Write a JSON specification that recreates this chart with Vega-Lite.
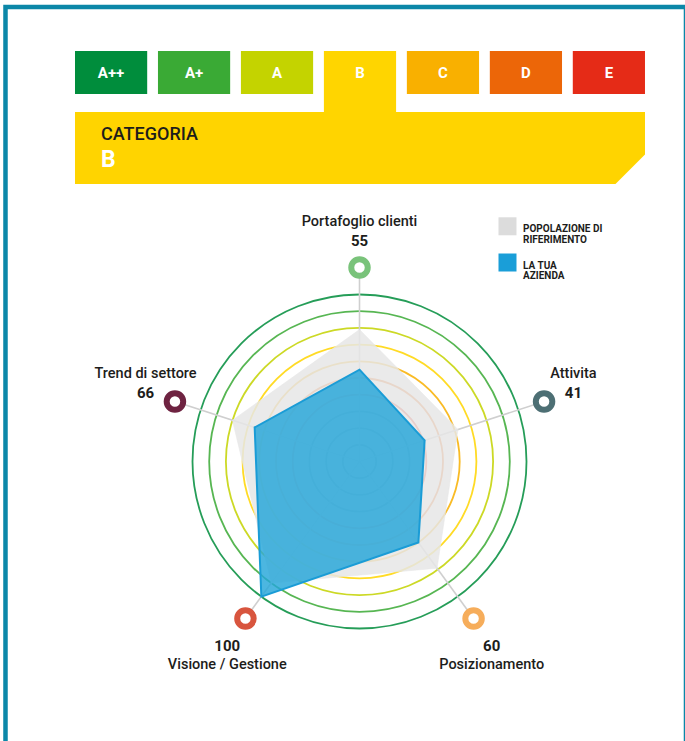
{
  "$schema": "https://vega.github.io/schema/vega-lite/v6.json",
  "width": 685,
  "height": 741,
  "autosize": {"type": "none"},
  "padding": 0,
  "background": "white",
  "config": {
    "view": {"stroke": null},
    "font": "Roboto"
  },
  "datasets": {
    "assi": [
      {"asse": "Portafoglio clienti", "ordine": 0, "azienda": 55, "popolazione": 79},
      {"asse": "Attivita", "ordine": 1, "azienda": 41, "popolazione": 62},
      {"asse": "Posizionamento", "ordine": 2, "azienda": 60, "popolazione": 79},
      {"asse": "Visione / Gestione", "ordine": 3, "azienda": 100, "popolazione": 90},
      {"asse": "Trend di settore", "ordine": 4, "azienda": 66, "popolazione": 80}
    ],
    "classi": [
      {"classe": "A++", "ordine": 0}, {"classe": "A+", "ordine": 1}, {"classe": "A", "ordine": 2}, {"classe": "B", "ordine": 3},
      {"classe": "C", "ordine": 4}, {"classe": "D", "ordine": 5}, {"classe": "E", "ordine": 6}
    ],
    "valutazione": [{"categoria": "B"}],
    "anelli": [
      {"soglia": 100, "classe": "A++"},
      {"soglia": 90, "classe": "A+"},
      {"soglia": 80, "classe": "A"},
      {"soglia": 70, "classe": "B"},
      {"soglia": 60, "classe": "C"},
      {"soglia": 50, "classe": "D"},
      {"soglia": 40, "classe": "E"},
      {"soglia": 30, "classe": "-"},
      {"soglia": 20, "classe": "-"},
      {"soglia": 10, "classe": "-"}
    ]
  },
  "layer": [
    {
      "data": {"values": [{}]},
      "mark": {"type": "rect", "filled": false, "stroke": "#0b87a8", "strokeWidth": 4.5},
      "encoding": {
        "x": {"datum": -211.98, "type": "quantitative", "axis": null, "scale": {"domain": [-215.27, 194.91], "nice": false, "zero": false}},
        "x2": {"datum": 195.5},
        "y": {"datum": 272.16, "type": "quantitative", "axis": null, "scale": {"domain": [-167.37, 276.35], "nice": false, "zero": false}},
        "y2": {"datum": -185}
      }
    },
    {
      "data": {"values": [{}]},
      "mark": {"type": "rect", "fill": "#ffd400", "strokeWidth": 0},
      "encoding": {
        "x": {"datum": -170.36, "type": "quantitative", "axis": null},
        "x2": {"datum": 170.96},
        "y": {"datum": 209.28, "type": "quantitative", "axis": null},
        "y2": {"datum": 166.17}
      }
    },
    {
      "data": {"values": [{}]},
      "mark": {"type": "point", "shape": "M1,-1L1,1L-1,1Z", "size": 900, "filled": true, "fill": "white", "strokeWidth": 0, "opacity": 1},
      "encoding": {
        "x": {"datum": 161.98, "type": "quantitative", "axis": null},
        "y": {"datum": 174.85, "type": "quantitative", "axis": null}
      }
    },
    {
      "data": {"name": "classi"},
      "transform": [
        {"calculate": "-170.36 + datum.ordine*49.68", "as": "x0"},
        {"calculate": "datum.x0 + 43.23", "as": "x1"},
        {"calculate": "245.81", "as": "yt"},
        {"calculate": "datum.classe === 'B' ? 205 : 220.06", "as": "yb"}
      ],
      "mark": {"type": "rect", "strokeWidth": 0},
      "encoding": {
        "x": {"field": "x0", "type": "quantitative", "axis": null},
        "x2": {"field": "x1"},
        "y": {"field": "yt", "type": "quantitative", "axis": null},
        "y2": {"field": "yb"},
        "color": {"field": "classe", "type": "nominal", "legend": null, "scale": {"domain": ["A++", "A+", "A", "B", "C", "D", "E", "-"], "range": ["#008d3c", "#3aaa35", "#c4d300", "#ffd500", "#f9b000", "#ec6608", "#e52b17", "#55585c"]}}
      }
    },
    {
      "data": {"name": "classi"},
      "transform": [
        {"calculate": "-170.36 + datum.ordine*49.68 + 21.6", "as": "xc"}
      ],
      "mark": {"type": "text", "align": "center", "baseline": "middle", "fontSize": 15, "fontWeight": "bold", "color": "white"},
      "encoding": {
        "x": {"field": "xc", "type": "quantitative", "axis": null},
        "y": {"datum": 232.93, "type": "quantitative", "axis": null},
        "text": {"field": "classe", "type": "nominal"}
      }
    },
    {
      "data": {"values": [{}]},
      "mark": {"type": "text", "text": "CATEGORIA", "align": "left", "baseline": "middle", "fontSize": 18, "fontWeight": 500, "color": "#1d1d1b"},
      "encoding": {
        "x": {"datum": -154.79, "type": "quantitative", "axis": null},
        "y": {"datum": 195.51, "type": "quantitative", "axis": null}
      }
    },
    {
      "data": {"name": "valutazione"},
      "mark": {"type": "text", "align": "left", "baseline": "middle", "fontSize": 23, "fontWeight": "bold", "color": "white"},
      "encoding": {
        "x": {"datum": -154.79, "type": "quantitative", "axis": null},
        "y": {"datum": 180.54, "type": "quantitative", "axis": null},
        "text": {"field": "categoria", "type": "nominal"}
      }
    },
    {
      "data": {"name": "anelli"},
      "mark": {"type": "point", "shape": "circle", "filled": false, "strokeWidth": 1.8, "opacity": 0.85},
      "encoding": {
        "x": {"datum": 0, "type": "quantitative", "axis": null},
        "y": {"datum": 0, "type": "quantitative", "axis": null},
        "size": {"field": "soglia", "type": "quantitative", "legend": null, "scale": {"type": "pow", "exponent": 2, "domain": [0, 100], "range": [0, 111556]}},
        "color": {"field": "classe", "type": "nominal", "legend": null}
      }
    },
    {
      "data": {"name": "assi"},
      "transform": [
        {"calculate": "2*PI*datum.ordine/5", "as": "ang"},
        {"calculate": "0", "as": "cx"},
        {"calculate": "116.2*sin(datum.ang)", "as": "mx"},
        {"calculate": "116.2*cos(datum.ang)", "as": "my"}
      ],
      "mark": {"type": "rule", "stroke": "#cfcfcf", "strokeWidth": 1.6},
      "encoding": {
        "x": {"field": "cx", "type": "quantitative", "axis": null},
        "y": {"field": "cx", "type": "quantitative", "axis": null},
        "x2": {"field": "mx"},
        "y2": {"field": "my"}
      }
    },
    {
      "data": {"name": "assi"},
      "transform": [
        {"calculate": "2*PI*datum.ordine/5", "as": "ang"},
        {"calculate": "datum.popolazione*sin(datum.ang)", "as": "px"},
        {"calculate": "datum.popolazione*cos(datum.ang)", "as": "py"}
      ],
      "mark": {"type": "line", "interpolate": "linear-closed", "fill": "#e6e6e6", "fillOpacity": 0.85, "stroke": "#e6e6e6", "strokeWidth": 0.5},
      "encoding": {
        "x": {"field": "px", "type": "quantitative", "axis": null},
        "y": {"field": "py", "type": "quantitative", "axis": null},
        "order": {"field": "ordine", "type": "quantitative"}
      }
    },
    {
      "data": {"name": "assi"},
      "transform": [
        {"calculate": "2*PI*datum.ordine/5", "as": "ang"},
        {"calculate": "datum.azienda*sin(datum.ang)", "as": "px"},
        {"calculate": "datum.azienda*cos(datum.ang)", "as": "py"}
      ],
      "mark": {"type": "line", "interpolate": "linear-closed", "fill": "#24a6d9", "fillOpacity": 0.82, "stroke": "#1a9cd6", "strokeWidth": 2},
      "encoding": {
        "x": {"field": "px", "type": "quantitative", "axis": null},
        "y": {"field": "py", "type": "quantitative", "axis": null},
        "order": {"field": "ordine", "type": "quantitative"}
      }
    },
    {
      "data": {"name": "assi"},
      "transform": [
        {"calculate": "2*PI*datum.ordine/5", "as": "ang"},
        {"calculate": "116.2*sin(datum.ang)", "as": "mx"},
        {"calculate": "116.2*cos(datum.ang)", "as": "my"}
      ],
      "mark": {"type": "point", "shape": "circle", "size": 272, "strokeWidth": 6, "filled": true, "fill": "white", "opacity": 1},
      "encoding": {
        "x": {"field": "mx", "type": "quantitative", "axis": null},
        "y": {"field": "my", "type": "quantitative", "axis": null},
        "stroke": {"field": "asse", "type": "nominal", "legend": null, "scale": {"domain": ["Portafoglio clienti", "Attivita", "Posizionamento", "Visione / Gestione", "Trend di settore"], "range": ["#79c37a", "#4d6f74", "#f6ad5b", "#d8553e", "#6e2341"]}}
      }
    },
    {
      "data": {"name": "assi"},
      "transform": [
        {"calculate": "2*PI*datum.ordine/5", "as": "ang"},
        {"calculate": "134.7*sin(datum.ang)", "as": "lx"},
        {"calculate": "137.7*cos(datum.ang) + (cos(datum.ang) > 0 ? 4.4*abs(sin(datum.ang)) : -4.5)", "as": "ly"},
        {"calculate": "datum.ly + (cos(datum.ang) > 0 ? 5.7 : -5.7)", "as": "ny"}
      ],
      "mark": {"type": "text", "align": "center", "baseline": "middle", "fontSize": 14.5, "fontWeight": 500, "color": "#1d1d1b"},
      "encoding": {
        "x": {"field": "lx", "type": "quantitative", "axis": null},
        "y": {"field": "ny", "type": "quantitative", "axis": null},
        "text": {"field": "asse", "type": "nominal"}
      }
    },
    {
      "data": {"name": "assi"},
      "transform": [
        {"calculate": "2*PI*datum.ordine/5", "as": "ang"},
        {"calculate": "134.7*sin(datum.ang)", "as": "lx"},
        {"calculate": "137.7*cos(datum.ang) + (cos(datum.ang) > 0 ? 4.4*abs(sin(datum.ang)) : -4.5)", "as": "ly"},
        {"calculate": "datum.ly - (cos(datum.ang) > 0 ? 5.7 : -5.7)", "as": "vy"}
      ],
      "mark": {"type": "text", "align": "center", "baseline": "middle", "fontSize": 15, "fontWeight": "bold", "color": "#1d1d1b"},
      "encoding": {
        "x": {"field": "lx", "type": "quantitative", "axis": null},
        "y": {"field": "vy", "type": "quantitative", "axis": null},
        "text": {"field": "azienda", "type": "quantitative"}
      }
    },
    {
      "data": {"values": [{}]},
      "mark": {"type": "point", "shape": "square", "size": 324, "filled": true, "fill": "#dcdcdc", "strokeWidth": 0, "opacity": 1},
      "encoding": {
        "x": {"datum": 88.62, "type": "quantitative", "axis": null},
        "y": {"datum": 140.84, "type": "quantitative", "axis": null}
      }
    },
    {
      "data": {"values": [{}]},
      "mark": {"type": "point", "shape": "square", "size": 324, "filled": true, "fill": "#1a9ed8", "strokeWidth": 0, "opacity": 1},
      "encoding": {
        "x": {"datum": 88.62, "type": "quantitative", "axis": null},
        "y": {"datum": 119.16, "type": "quantitative", "axis": null}
      }
    },
    {
      "data": {"values": [{}]},
      "mark": {"type": "text", "text": ["POPOLAZIONE DI", "RIFERIMENTO"], "align": "left", "baseline": "middle", "fontSize": 10, "fontWeight": "bold", "lineHeight": 10.5, "color": "#1d1d1b"},
      "encoding": {
        "x": {"datum": 97.9, "type": "quantitative", "axis": null},
        "y": {"datum": 139.22, "type": "quantitative", "axis": null}
      }
    },
    {
      "data": {"values": [{}]},
      "mark": {"type": "text", "text": ["LA TUA", "AZIENDA"], "align": "left", "baseline": "middle", "fontSize": 10, "fontWeight": "bold", "lineHeight": 10.5, "color": "#1d1d1b"},
      "encoding": {
        "x": {"datum": 97.9, "type": "quantitative", "axis": null},
        "y": {"datum": 117.07, "type": "quantitative", "axis": null}
      }
    }
  ]
}
